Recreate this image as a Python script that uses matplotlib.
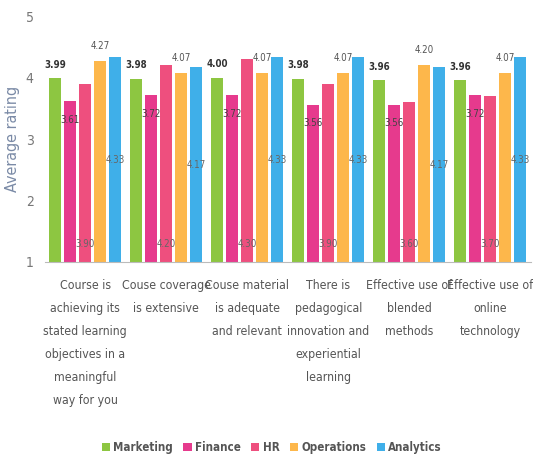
import matplotlib.pyplot as plt
import numpy as np

categories = [
    "Course is\nachieving its\nstated learning\nobjectives in a\nmeaningful\nway for you",
    "Couse coverage\nis extensive",
    "Couse material\nis adequate\nand relevant",
    "There is\npedagogical\ninnovation and\nexperiential\nlearning",
    "Effective use of\nblended\nmethods",
    "Effective use of\nonline\ntechnology",
]
series = ["Marketing", "Finance", "HR", "Operations", "Analytics"]
marketing = [3.99, 3.98, 4.00, 3.98, 3.96, 3.96]
finance = [3.61, 3.72, 3.72, 3.56, 3.56, 3.72]
hr = [3.90, 4.20, 4.30, 3.90, 3.60, 3.70]
operations = [4.27, 4.07, 4.07, 4.07, 4.20, 4.07]
analytics = [4.33, 4.17, 4.33, 4.33, 4.17, 4.33]

colors = ["#8DC641", "#E63A8D", "#EE4F7E", "#FDB74B", "#3FAFE9"]
values = [marketing, finance, hr, operations, analytics]

plt.rcParams['font.family'] = ['DejaVu Sans']
plt.rcParams['font.stretch'] = 'condensed'

fig = plt.figure(figsize=(5.33, 4.58), dpi=100)
ax = fig.add_axes([0.084, 0.428, 0.912, 0.537])

x = np.arange(len(categories))
step = 0.185
width = 0.15
for i, (name, vals, c) in enumerate(zip(series, values, colors)):
    pos = x + (i - 2) * step
    ax.bar(pos, np.array(vals) - 1, width, bottom=1, color=c, label=name)
    for p, v in zip(pos, vals):
        txt = f"{v:.2f}"
        if name == "Marketing":
            ax.annotate(txt, (p, v), xytext=(0, 6), textcoords='offset points',
                        ha='center', va='bottom', fontsize=7, color='#333333', fontweight='bold')
        elif name == "Finance":
            ax.annotate(txt, (p, v), xytext=(0, -10), textcoords='offset points',
                        ha='center', va='top', fontsize=7, color='#444444')
        elif name == "HR":
            ax.text(p, 1.3, txt, ha='center', va='center', fontsize=7, color='#666666')
        elif name == "Operations":
            ax.annotate(txt, (p, v), xytext=(0, 7), textcoords='offset points',
                        ha='center', va='bottom', fontsize=7, color='#555555')
        else:
            ax.text(p, (1 + v) / 2, txt, ha='center', va='center', fontsize=7, color='#666666')

ax.set_xlim(-0.5, 5.5)
ax.set_ylim(1, 5)
ax.set_yticks([1, 2, 3, 4, 5])
ax.tick_params(axis='y', length=0, labelsize=10, labelcolor='#777777', pad=8)
ax.set_xticks(x)
ax.set_xticklabels(categories, fontsize=8.8, color='#555555', linespacing=2.0)
ax.tick_params(axis='x', length=0, pad=12)
ax.set_ylabel("Average rating", fontsize=11.5, color='#7A8AA6', labelpad=4)
for s in ['top', 'right', 'left']:
    ax.spines[s].set_visible(False)
ax.spines['bottom'].set_color('#BBBBBB')

fig.legend(loc='center', bbox_to_anchor=(0.51, 0.022), ncol=5, frameon=False,
           prop={'size': 8.3, 'weight': 'bold', 'stretch': 'condensed'},
           handlelength=0.7, handleheight=0.7, handletextpad=0.3,
           columnspacing=0.9, labelcolor='#555555')

fig.savefig("out.png", dpi=100)
